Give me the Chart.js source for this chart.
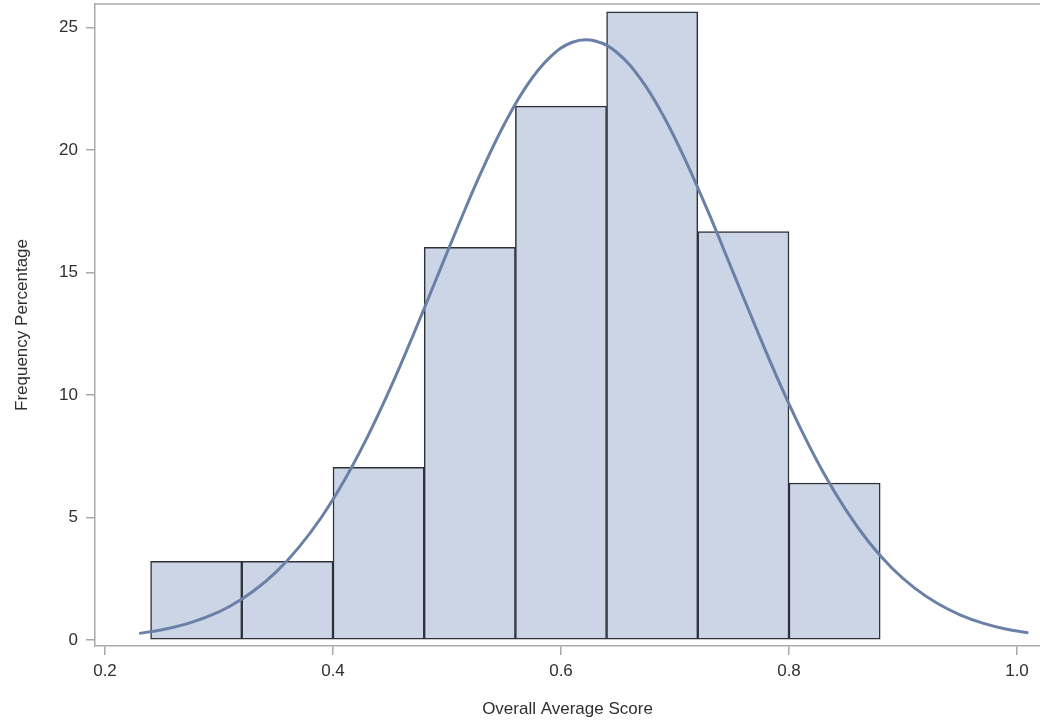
<!DOCTYPE html>
<html>
<head>
<meta charset="utf-8">
<script src="https://cdn.jsdelivr.net/npm/chart.js@4/dist/chart.umd.min.js"></script>
<style>
  html, body { margin: 0; padding: 0; background: #fff; }
  #wrap { width: 1040px; height: 720px; }
</style>
</head>
<body>
<div id="wrap"><canvas id="hist" width="1040" height="720"></canvas></div>
<script>
// histogram bins (left edges) and percentages
const binStarts = [0.24, 0.32, 0.40, 0.48, 0.56, 0.64, 0.72, 0.80];
const binWidth = 0.08;
const binPercents = [3.21, 3.21, 7.05, 16.03, 21.79, 25.64, 16.67, 6.41];

// fitted normal curve
const curveX = [0.23, 0.25, 0.27, 0.29, 0.31, 0.33, 0.35, 0.37, 0.39, 0.41,
  0.43, 0.45, 0.47, 0.49, 0.51, 0.53, 0.55, 0.57, 0.59, 0.61,
  0.63, 0.65, 0.67, 0.69, 0.71, 0.73, 0.75, 0.77, 0.79, 0.81,
  0.83, 0.85, 0.87, 0.89, 0.91, 0.93, 0.95, 0.97, 0.99, 1.01];
const curveY = [0.27, 0.42, 0.64, 0.95, 1.39, 1.99, 2.77, 3.78, 5.02, 6.52,
  8.27, 10.25, 12.41, 14.67, 16.93, 19.10, 21.03, 22.63, 23.77, 24.40,
  24.45, 23.94, 22.89, 21.38, 19.50, 17.38, 15.12, 12.86, 10.67, 8.65,
  6.85, 5.30, 4.00, 2.95, 2.13, 1.50, 1.03, 0.69, 0.45, 0.29];

const xTicks = [0.2, 0.4, 0.6, 0.8, 1.0];
const yTicks = [0, 5, 10, 15, 20, 25];

const axisGray = "#a8a8a8";
const textColor = "#2f2f2f";
const fontFamily = "'Liberation Sans', Arial, sans-serif";

// top border of the plot frame
const frameTop = {
  id: "frameTop",
  afterDraw(chart) {
    const { ctx, chartArea } = chart;
    ctx.save();
    ctx.strokeStyle = axisGray;
    ctx.lineWidth = 1.5;
    ctx.beginPath();
    ctx.moveTo(chartArea.left, chartArea.top);
    ctx.lineTo(chartArea.right, chartArea.top);
    ctx.stroke();
    ctx.restore();
  },
};

const ctxHist = document.getElementById("hist").getContext("2d");
new Chart(ctxHist, {
  type: "bar",
  data: {
    datasets: [
      {
        type: "line",
        data: curveX.map((x, i) => ({ x: x, y: curveY[i] })),
        borderColor: "#6b80a6",
        borderWidth: 3,
        pointRadius: 0,
        tension: 0.4,
        fill: false,
        order: 0,
      },
      {
        type: "bar",
        data: binStarts.map((s, i) => ({ x: s + binWidth / 2, y: binPercents[i] })),
        backgroundColor: "#cbd5e6",
        borderColor: "#2e3138",
        borderWidth: 1.5,
        borderSkipped: false,
        barPercentage: 1,
        categoryPercentage: 1,
        order: 1,
      },
    ],
  },
  options: {
    responsive: false,
    animation: false,
    layout: { padding: { top: 4, right: 0, left: 0, bottom: 0 } },
    plugins: {
      legend: { display: false },
      tooltip: { enabled: false },
    },
    scales: {
      x: {
        type: "linear",
        offset: false,
        min: 0.19123,
        max: 1.02018,
        afterBuildTicks: (scale) => {
          scale.ticks = xTicks.map((v) => ({ value: v }));
        },
        afterFit: (scale) => {
          scale.height = 74;
          scale.paddingLeft = 0;
          scale.paddingRight = 0;
        },
        grid: {
          display: true,
          offset: false,
          drawOnChartArea: false,
          drawTicks: true,
          tickLength: 9,
          color: axisGray,
          lineWidth: 1.5,
        },
        border: { display: true, color: axisGray, width: 1.5 },
        ticks: {
          padding: 6,
          color: textColor,
          font: { family: fontFamily, size: 17 },
          callback: (v) => v.toFixed(1),
        },
        title: {
          display: true,
          text: "Overall Average Score",
          color: textColor,
          font: { family: fontFamily, size: 17 },
          padding: { top: 0, bottom: 0 },
        },
      },
      y: {
        type: "linear",
        min: -0.245,
        max: 25.96,
        afterBuildTicks: (scale) => {
          scale.ticks = yTicks.map((v) => ({ value: v }));
        },
        afterFit: (scale) => {
          scale.width = 95;
          scale.paddingTop = 0;
          scale.paddingBottom = 0;
        },
        grid: {
          display: true,
          drawOnChartArea: false,
          drawTicks: true,
          tickLength: 9,
          color: axisGray,
          lineWidth: 1.5,
        },
        border: { display: true, color: axisGray, width: 1.5 },
        ticks: {
          padding: 8,
          color: textColor,
          font: { family: fontFamily, size: 17 },
        },
        title: {
          display: true,
          text: "Frequency Percentage",
          color: textColor,
          font: { family: fontFamily, size: 17 },
          padding: { top: 12, bottom: 4 },
        },
      },
    },
  },
  plugins: [frameTop],
});
</script>
</body>
</html>
